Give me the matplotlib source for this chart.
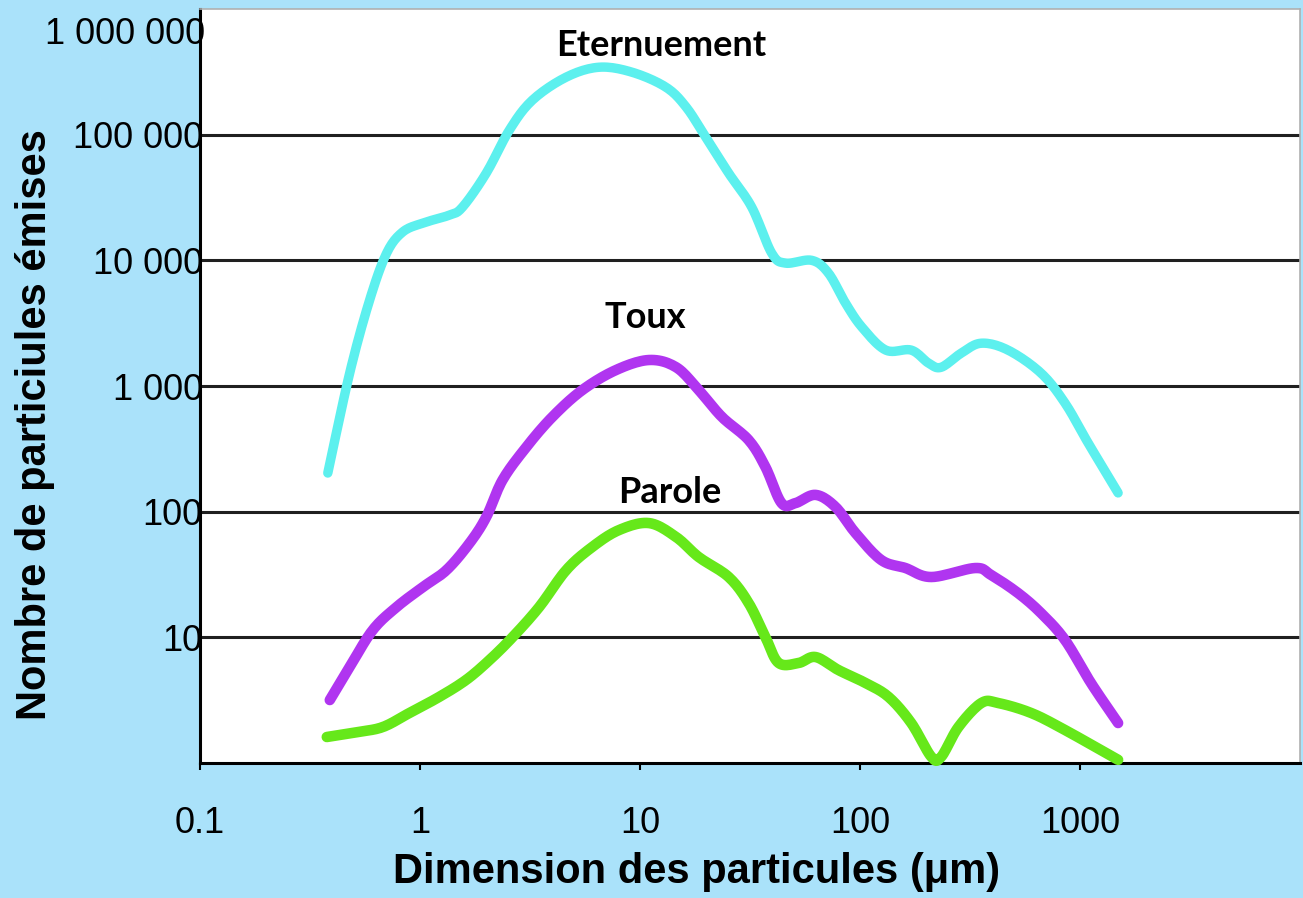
import matplotlib
matplotlib.use("Agg")
import matplotlib.pyplot as plt
import numpy as np

# ---- data ----
eternuement_x = [0.381, 0.479, 0.590, 0.705, 0.834, 1.03, 1.36, 1.56, 2.00, 2.55, 3.24, 4.62,
                 6.51, 9.20, 13.1, 16.2, 19.9, 25.3, 32.2, 39.7, 45.9, 60.3, 71.9, 85.9, 102,
                 131, 171, 205, 234, 289, 356, 471, 665, 855, 1090, 1490]
eternuement_y = [203, 1267, 4820, 11400, 16800, 19800, 22900, 26500, 49400, 109000, 188000,
                 287000, 344000, 314000, 239000, 166000, 95500, 49400, 26500, 11400, 9500,
                 10000, 7910, 4570, 2940, 1930, 1930, 1520, 1410, 1830, 2190, 1930, 1267, 731,
                 351, 141]

toux_x = [0.389, 0.479, 0.609, 0.782, 1.03, 1.32, 1.68, 2.00, 2.37, 3.04, 3.99, 5.46, 7.78,
          11.0, 14.6, 18.5, 23.6, 31.2, 37.2, 44.0, 50.9, 62.8, 77.4, 95.4, 125, 161, 211,
          334, 395, 523, 665, 855, 1122, 1490]
toux_y = [3.17, 5.80, 11.4, 17.4, 25.1, 34.3, 56.2, 90.6, 178, 326, 566, 927, 1340, 1610,
          1410, 927, 566, 371, 226, 117, 117, 136, 109, 67.6, 41.2, 35.6, 30.2, 35.6, 31.3,
          22.5, 15.6, 9.52, 4.33, 2.08]

parole_x = [0.377, 0.515, 0.676, 0.895, 1.22, 1.62, 2.07, 2.63, 3.48, 4.62, 6.06, 8.03, 11.0,
            14.6, 18.5, 25.3, 31.2, 37.2, 42.7, 52.6, 62.8, 79.8, 106, 135, 171, 211, 234,
            280, 356, 425, 600, 855, 1490]
parole_y = [1.61, 1.76, 1.93, 2.50, 3.35, 4.58, 6.60, 10.0, 17.4, 34.3, 52.3, 71.4, 81.1,
            62.8, 43.5, 30.2, 18.7, 10.0, 6.25, 6.25, 6.97, 5.49, 4.33, 3.35, 2.08, 1.12, 1.12,
            1.93, 3.00, 3.00, 2.50, 1.83, 1.06]

x_ticks = [0.1, 1, 10, 100, 1000]
x_ticklabels = ["0.1", "1", "10", "100", "1000"]
y_ticks = [10, 100, 1000, 10000, 100000]
y_ticklabels = ["10", "100", "1 000", "10 000", "100 000"]
y_top_label = "1 000 000"

series_labels = ["Eternuement", "Toux", "Parole"]


def smooth_loglog(xs, ys, n=12):
    """Smoothed (Catmull-Rom) drawing path in log-log space, like a smoothed line chart."""
    lx, ly = np.log10(xs), np.log10(ys)
    P = np.column_stack([lx, ly])
    P = np.vstack([P[0], P, P[-1]])
    out = []
    for i in range(1, len(P) - 2):
        p0, p1, p2, p3 = P[i - 1], P[i], P[i + 1], P[i + 2]
        for t in np.linspace(0, 1, n, endpoint=False):
            t2, t3 = t * t, t * t * t
            pt = 0.5 * ((2 * p1) + (-p0 + p2) * t + (2 * p0 - 5 * p1 + 4 * p2 - p3) * t2
                        + (-p0 + 3 * p1 - 3 * p2 + p3) * t3)
            out.append(pt)
    out.append(P[-2])
    out = np.array(out)
    return 10 ** out[:, 0], 10 ** out[:, 1]


# ---- figure ----
W, H = 1303, 898
fig = plt.figure(figsize=(W / 100, H / 100), dpi=100)
fig.patch.set_facecolor("#aae2fa")
ax = fig.add_axes([200 / W, 1 - 763 / H, 1100 / W, (763 - 9) / H])
ax.set_facecolor("white")
ax.set_xscale("log")
ax.set_yscale("log")
ax.set_xlim(0.1, 10000)
ax.set_ylim(1, 1e6)

for yv in y_ticks:
    ax.axhline(yv, color="#202020", lw=2.2, zorder=1)

styles = [("#5cf0ee", 6.8), ("#b035f0", 7.6), ("#66e81a", 7.6)]
for (xs, ys), (c, w) in zip([(eternuement_x, eternuement_y), (toux_x, toux_y),
                             (parole_x, parole_y)], styles):
    sx, sy = smooth_loglog(xs, ys)
    ax.plot(sx, sy, color=c, lw=w, solid_capstyle="round", solid_joinstyle="round",
            zorder=3, clip_on=False)

ann_font = dict(family="Lato", fontweight="bold", fontsize=26, color="black")
fig.text(661 / W, 1 - 45 / H, series_labels[0], ha="center", va="center", **ann_font)
fig.text(645 / W, 1 - 318 / H, series_labels[1], ha="center", va="center", **ann_font)
fig.text(670 / W, 1 - 492 / H, series_labels[2], ha="center", va="center", **ann_font)

# axes styling
for s in ["left", "bottom"]:
    ax.spines[s].set_color("black")
    ax.spines[s].set_linewidth(2.2)
for s in ["top", "right"]:
    ax.spines[s].set_color("#b0b0b0")
    ax.spines[s].set_linewidth(1.2)

ax.set_xticks(x_ticks)
ax.set_xticklabels(x_ticklabels, fontfamily="Liberation Sans", fontsize=26)
ax.xaxis.set_minor_locator(matplotlib.ticker.NullLocator())
ax.tick_params(axis="x", which="major", length=5, width=1.5, direction="out", pad=26)

ax.set_yticks(y_ticks)
ax.set_yticklabels(y_ticklabels, fontfamily="Liberation Sans", fontsize=26)
ax.yaxis.set_minor_locator(matplotlib.ticker.NullLocator())
ax.tick_params(axis="y", which="major", length=0, pad=-2)

fig.text(205 / W, 1 - 35 / H, y_top_label, ha="right", va="center",
         fontfamily="Liberation Sans", fontsize=26)

fig.text(697 / W, 1 - 872 / H, "Dimension des particules (\u03bcm)", ha="center", va="center",
         fontfamily="Liberation Sans", fontweight="bold", fontsize=30)
fig.text(35 / W, 1 - 425 / H, "Nombre de particiules émises", ha="center", va="center",
         rotation=90, fontfamily="Liberation Sans", fontweight="bold", fontsize=30)

fig.savefig("out.png", dpi=100, facecolor=fig.get_facecolor())
